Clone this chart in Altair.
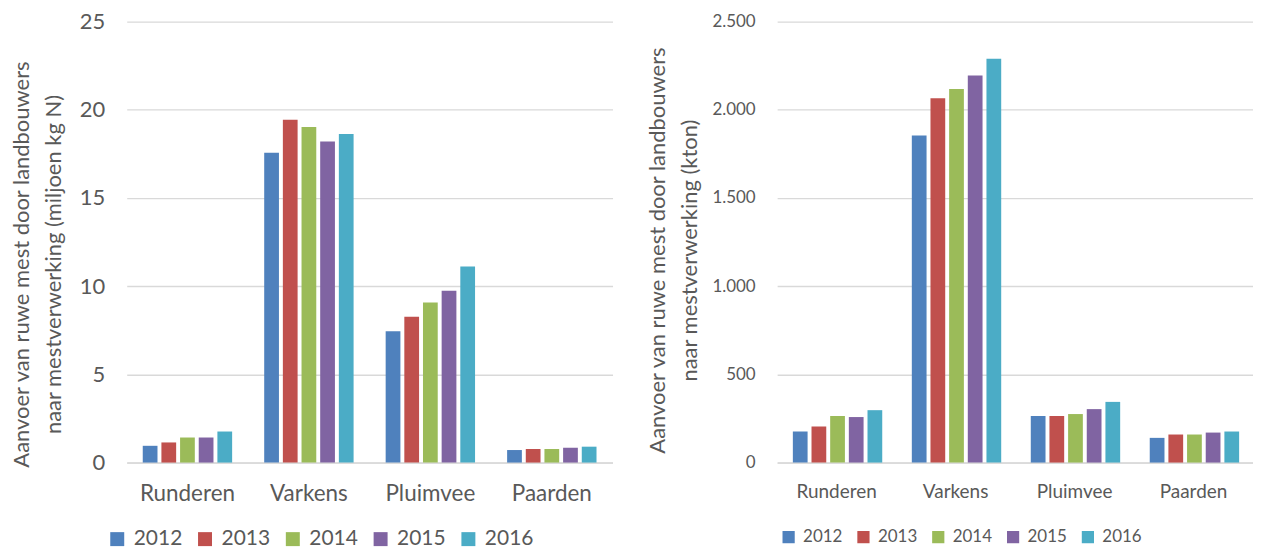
import altair as alt
import pandas as pd

categories = ["Runderen", "Varkens", "Pluimvee", "Paarden"]
years = ["2012", "2013", "2014", "2015", "2016"]
colors = ["#4F81BD", "#C0504D", "#9BBB59", "#8064A2", "#4BACC6"]

# Left panel: miljoen kg N
n_2012 = [0.95, 17.56, 7.44, 0.71]
n_2013 = [1.14, 19.43, 8.26, 0.77]
n_2014 = [1.42, 19.02, 9.08, 0.77]
n_2015 = [1.42, 18.20, 9.74, 0.84]
n_2016 = [1.76, 18.63, 11.12, 0.90]

# Right panel: kton
kton_2012 = [176, 1855, 264, 140]
kton_2013 = [204, 2066, 264, 159]
kton_2014 = [264, 2118, 275, 159]
kton_2015 = [258, 2195, 303, 170]
kton_2016 = [297, 2289, 344, 176]

left_ticks = [0, 5, 10, 15, 20, 25]
right_ticks = [0, 500, 1000, 1500, 2000, 2500]

title_left = ["Aanvoer van ruwe mest door landbouwers", "naar mestverwerking  (miljoen kg N)"]
title_right = ["Aanvoer van ruwe mest door landbouwers", "naar mestverwerking  (kton)"]


def make_df(series):
    rows = []
    for y, vals in zip(years, series):
        for c, v in zip(categories, vals):
            rows.append({"cat": c, "year": y, "v": v})
    return pd.DataFrame(rows)


df_left = make_df([n_2012, n_2013, n_2014, n_2015, n_2016])
df_right = make_df([kton_2012, kton_2013, kton_2014, kton_2015, kton_2016])

FONT = "Lato"
TXT = "#595959"
GRID = "#d9d9d9"
H = 442


def panel(df, ymax, ticks, title, width, tick_fs, xlab_fs, title_fs, title_pad,
          title_shift, leg_fs, leg_sym, leg_colpad, leg_x, label_expr=None):
    yaxis_kwargs = dict(
        values=ticks, title=title, titleFontSize=title_fs, titleFont=FONT,
        titleFontWeight="normal", titleColor=TXT, titleLineHeight=32,
        titlePadding=title_pad, titleY=H / 2 + title_shift,
        labelFont=FONT, labelFontSize=tick_fs,
        labelColor=TXT, labelPadding=22, domain=False, ticks=False,
        gridColor=GRID, gridWidth=1.3,
    )
    if label_expr:
        yaxis_kwargs["labelExpr"] = label_expr
    return alt.Chart(df).mark_bar().encode(
        x=alt.X("cat:N", sort=categories,
                scale=alt.Scale(paddingInner=0.264, paddingOuter=0.132),
                axis=alt.Axis(title=None, labelAngle=0, labelFont=FONT,
                              labelFontSize=xlab_fs, labelColor=TXT,
                              labelPadding=20, ticks=False, domainColor=GRID,
                              domainWidth=1.5, grid=False)),
        xOffset=alt.XOffset("year:N", sort=years,
                            scale=alt.Scale(paddingInner=0.21, paddingOuter=0)),
        y=alt.Y("v:Q", scale=alt.Scale(domain=[0, ymax], nice=False),
                axis=alt.Axis(**yaxis_kwargs)),
        color=alt.Color("year:N", sort=years,
                        scale=alt.Scale(domain=years, range=colors),
                        legend=alt.Legend(orient="none", direction="horizontal",
                                          legendX=leg_x, legendY=H + 66,
                                          title=None, symbolType="square",
                                          symbolSize=leg_sym, symbolStrokeWidth=0,
                                          labelFont=FONT, labelFontSize=leg_fs,
                                          labelColor=TXT, labelOffset=6,
                                          columnPadding=leg_colpad)),
    ).properties(width=width, height=H)


left = panel(df_left, 25, left_ticks, title_left, 487, 22, 22.5, 22, 14, 22,
             21, 196, 12, -20)
right = panel(df_right, 2500, right_ticks, title_right, 477, 17, 19, 22, 10, 8,
              17, 150, 12, 3,
              label_expr="replace(format(datum.value, ','), ',', '.')")

chart = alt.hconcat(left, right, spacing=34).resolve_scale(
    color="independent").resolve_legend(color="independent").properties(
    padding={"left": 2, "top": 2, "right": 0, "bottom": 0}).configure_view(stroke=None)

chart.save("out.html", embed_options={"renderer": "svg", "actions": False})
